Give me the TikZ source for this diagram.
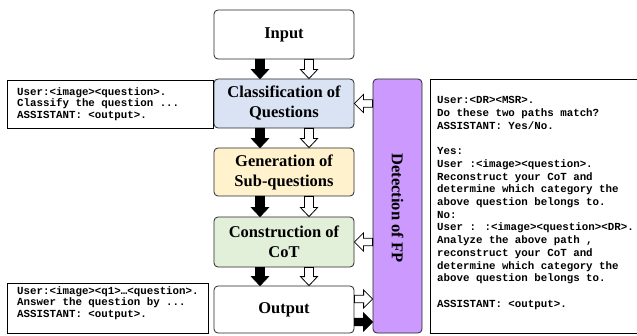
\documentclass[tikz,border=0pt]{standalone}
\usepackage{fontspec}
\setmainfont{Liberation Serif}
\newfontfamily\monof{Liberation Mono}
\usetikzlibrary{calc}
\definecolor{clsblue}{HTML}{DAE3F3}
\definecolor{genyellow}{HTML}{FFF2CC}
\definecolor{cotgreen}{HTML}{E2F0D9}
\definecolor{detpurple}{HTML}{CC99FF}
\tikzset{
  stage/.style={draw=black!85, line width=0.8pt, rounded corners=4pt,
    minimum width=140pt, align=center, inner sep=0pt,
    font=\fontsize{16.5}{20}\selectfont\bfseries},
  promptbox/.style={draw=black, line width=0.8pt, inner sep=0pt},
  prompttext/.style={align=left, inner sep=0pt,
    font=\monof\bfseries\fontsize{10.8}{11.5}\selectfont},
  arrowline/.style={draw=black, line width=0.8pt, line join=miter}
}
% block arrow from #2 to #3, fill #1, half shaft #4, half head #5
\newcommand\blockarrow[5]{%
  \path ($(#3)!9pt!(#2)$) coordinate (bh);
  \draw[arrowline, fill=#1] ($(#2)!#4!90:(#3)$) -- ($(bh)!#4!-90:(#2)$)
    -- ($(bh)!#5!-90:(#2)$) -- (#3) -- ($(bh)!#5!90:(#2)$)
    -- ($(bh)!#4!90:(#2)$) -- ($(#2)!#4!-90:(#3)$) -- cycle;}
\newcommand\vdown[4]{%
  \coordinate (vs) at ($(#2.south)+(#4,0)$);
  \coordinate (ve) at ($(#3.north)+(#4,0)$);
  \blockarrow{#1}{vs}{ve}{4.5pt}{8.5pt}}
\newcommand\hor[4]{%
  \coordinate (hs) at ($(#2)+(0,#4)$);
  \coordinate (he) at (#3 |- hs);
  \blockarrow{#1}{hs}{he}{3.8pt}{9pt}}
\begin{document}
\begin{tikzpicture}[x=1pt,y=1pt]
\useasboundingbox (0,0) rectangle (637,335);
% stages
\node[stage, minimum height=49pt] (in) at (284,300.5) {Input};
\node[stage, minimum height=49pt, fill=clsblue] (cls) at (284,231.5) {Classification of\\Questions};
\node[stage, minimum height=48pt, fill=genyellow] (gen) at (284,163) {Generation of\\Sub-questions};
\node[stage, minimum height=50pt, fill=cotgreen] (cot) at (284,93) {Construction of\\CoT};
\node[stage, minimum height=47pt] (out) at (284,25.5) {Output};
\node[stage, minimum width=49pt, minimum height=254pt, fill=detpurple] (det) at (397.5,129) {};
\node[rotate=-90, font=\fontsize{16.5}{20}\selectfont\bfseries] (dettext) at (397.5,127) {Detection of FP};
% prompt boxes
\node[promptbox, minimum width=206pt, minimum height=48pt] (p1) at (110,231) {};
\node[prompttext, anchor=west] (p1t) at (17,231) {User:<image><question>.\\Classify the question ...\\ASSISTANT: <output>.};
\node[promptbox, minimum width=201pt, minimum height=50pt] (p2) at (107.5,27) {};
\node[prompttext, anchor=west] (p2t) at (17,32) {User:<image><q1>…<question>.\\Answer the question by ...\\ASSISTANT: <output>.};
\node[promptbox, minimum width=210pt, minimum height=254pt] (pr) at (535,129) {};
\node[prompttext, anchor=north west, font=\monof\bfseries\fontsize{10.8}{12.7}\selectfont] (prt) at (437,238.5) {User:<DR><MSR>.\\Do these two paths match?\\ASSISTANT: Yes/No.\\~\\Yes:\\User :<image><question>.\\Reconstruct your CoT and\\determine which category the\\above question belongs to.\\No:\\User : :<image><question><DR>.\\Analyze the above path ,\\reconstruct your CoT and\\determine which category the\\above question belongs to.\\~\\ASSISTANT: <output>.};
% vertical arrows
\vdown{black}{in}{cls}{-24}
\vdown{white}{in}{cls}{25}
\vdown{black}{cls}{gen}{-24}
\vdown{white}{cls}{gen}{25}
\vdown{black}{gen}{cot}{-24}
\vdown{white}{gen}{cot}{25}
\vdown{black}{cot}{out}{-24}
\vdown{white}{cot}{out}{25}
% horizontal arrows
\hor{white}{det.west |- cls.east}{cls.east}{0}
\hor{white}{det.west |- cot.east}{cot.east}{0}
\hor{white}{out.east}{det.west}{10.5}
\hor{black}{out.east}{det.west}{-12.5}
\end{tikzpicture}
\end{document}
